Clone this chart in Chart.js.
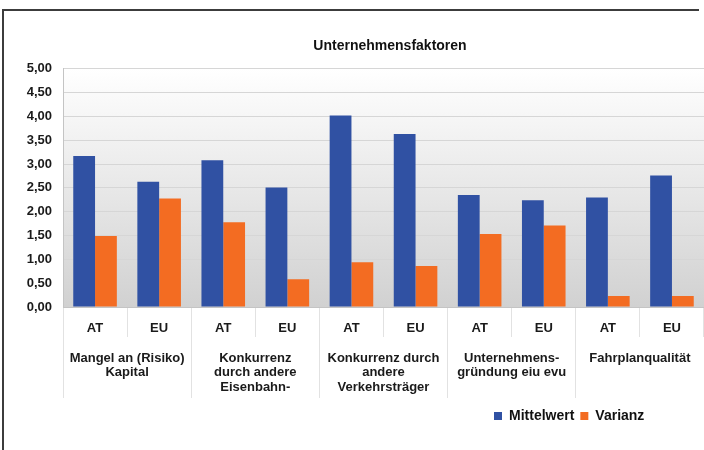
<!DOCTYPE html>
<html>
<head>
<meta charset="utf-8">
<title>Unternehmensfaktoren</title>
<script src="https://cdn.jsdelivr.net/npm/chart.js@4.4.1/dist/chart.umd.min.js"></script>
<style>
  html, body { margin: 0; padding: 0; background: #fff; overflow: hidden; }
  #wrap { position: absolute; left: 0; top: 0; width: 704px; height: 450px; }
  .edge { position: absolute; background: #3c3c3c; pointer-events: none; }
  #edgeLeft { left: 2px; top: 9px; width: 2px; height: 441px; }
  #edgeTop { left: 2px; top: 9px; width: 697px; height: 2px; }
</style>
</head>
<body>
<div id="wrap"><canvas id="chart" width="704" height="450"></canvas></div>
<div class="edge" id="edgeLeft"></div>
<div class="edge" id="edgeTop"></div>
<script>
var countries = ['AT', 'EU'];
var factors = [
    ['Mangel an (Risiko)', 'Kapital'],
    ['Konkurrenz', 'durch andere', 'Eisenbahn-'],
    ['Konkurrenz durch', 'andere', 'Verkehrsträger'],
    ['Unternehmens-', 'gründung eiu evu'],
    ['Fahrplanqualität']
];
var mittelwert = [3.17, 2.63, 3.08, 2.51, 4.02, 3.63, 2.35, 2.24, 2.30, 2.76];
var varianz = [1.49, 2.28, 1.78, 0.58, 0.94, 0.86, 1.53, 1.71, 0.23, 0.23];
var yTickLabels = ['0,00', '0,50', '1,00', '1,50', '2,00', '2,50', '3,00', '3,50', '4,00', '4,50', '5,00'];

// AT / EU for every factor
var labels = [];
factors.forEach(function() {
    countries.forEach(function(c) { labels.push(c); });
});

// grey fade behind the bars
var plotBackground = {
    id: 'plotBackground',
    beforeDraw: function(chart) {
        var a = chart.chartArea;
        var ctx = chart.ctx;
        var g = ctx.createLinearGradient(0, a.top, 0, a.bottom);
        g.addColorStop(0, '#ffffff');
        g.addColorStop(1, '#d1d1d1');
        ctx.save();
        ctx.fillStyle = g;
        ctx.fillRect(a.left, a.top, a.right - a.left, a.bottom - a.top);
        ctx.restore();
    }
};

// title over the plot, legend to the lower right
var placeBoxes = {
    id: 'placeBoxes',
    afterLayout: function(chart) {
        var t = chart.titleBlock;
        t.left = 190; t.right = 590;
        var lg = chart.legend;
        var h = lg.height;
        lg.left = 488; lg.right = 704;
        lg.top = 403; lg.bottom = 403 + h;
    }
};

Chart.defaults.font.family = '"Liberation Sans", Arial, sans-serif';
Chart.defaults.font.weight = 'bold';
Chart.defaults.font.size = 13;
Chart.defaults.color = '#1a1a1a';

var ctx = document.getElementById('chart').getContext('2d');
var chart = new Chart(ctx, {
    type: 'bar',
    data: {
        labels: labels,
        datasets: [{
            label: 'Mittelwert',
            data: mittelwert,
            backgroundColor: '#3051a3',
            borderWidth: 0,
            categoryPercentage: 0.68,
            barPercentage: 1.0
        }, {
            label: 'Varianz',
            data: varianz,
            backgroundColor: '#f36c22',
            borderWidth: 0,
            categoryPercentage: 0.68,
            barPercentage: 1.0
        }]
    },
    options: {
        responsive: false,
        animation: false,
        layout: { padding: { left: 0, right: 0, top: 0, bottom: 22 } },
        plugins: {
            title: {
                display: true,
                text: 'Unternehmensfaktoren',
                font: { size: 14, weight: 'bold' },
                color: '#111',
                padding: { top: 38, bottom: 14 }
            },
            legend: {
                position: 'bottom',
                align: 'start',
                labels: {
                    boxWidth: 8,
                    boxHeight: 8,
                    padding: 6,
                    font: { size: 14, weight: 'bold' },
                    color: '#111'
                }
            },
            tooltip: { enabled: false }
        },
        scales: {
            x: {
                type: 'category',
                position: 'bottom',
                weight: 0,
                offset: true,
                grid: {
                    offset: true,
                    drawOnChartArea: false,
                    drawTicks: true,
                    tickLength: 30,
                    color: '#e2e2e2'
                },
                border: { display: true, color: '#c4c4c4' },
                ticks: { autoSkip: false, maxRotation: 0, padding: -16 },
                afterFit: function(scale) { scale.height = 30; }
            },
            x2: {
                type: 'category',
                position: 'bottom',
                weight: 1,
                labels: factors,
                offset: true,
                grid: {
                    offset: true,
                    drawOnChartArea: false,
                    drawTicks: true,
                    tickLength: 61,
                    color: '#e2e2e2'
                },
                border: { display: false },
                ticks: {
                    autoSkip: false,
                    maxRotation: 0,
                    padding: -47,
                    font: { size: 13, weight: 'bold', lineHeight: 1.12 }
                },
                afterFit: function(scale) { scale.height = 61; }
            },
            y: {
                min: 0,
                max: 5,
                ticks: {
                    stepSize: 0.5,
                    padding: 11,
                    callback: function(v, i) { return yTickLabels[i]; }
                },
                grid: { color: '#d6d6d6', drawTicks: false },
                border: { display: true, color: '#c4c4c4' },
                afterFit: function(scale) { scale.width = 63; }
            }
        }
    },
    plugins: [plotBackground, placeBoxes]
});
</script>
</body>
</html>
